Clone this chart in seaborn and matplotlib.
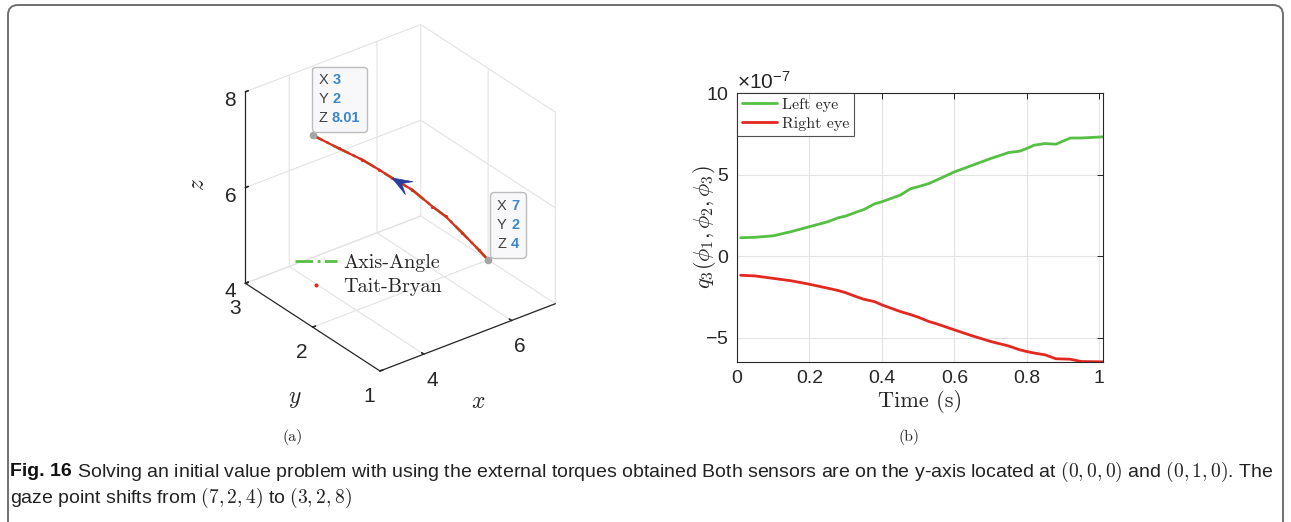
import numpy as np
import pandas as pd
import matplotlib
matplotlib.use("Agg")
import matplotlib.pyplot as plt
import matplotlib.transforms as mtransforms
import matplotlib.ticker as mticker
import seaborn as sns
from matplotlib.patches import FancyBboxPatch, Polygon
from matplotlib.offsetbox import TextArea, HPacker, VPacker, AnnotationBbox
from mpl_toolkits.mplot3d import proj3d

# ---------------- data ----------------
# (a) gaze trajectory, from (7,2,4) to (3,2,8)
path_x = [7.0, 6.79, 6.41, 6.03, 5.73, 5.27, 4.81, 4.51, 4.13, 3.59, 3.0]
path_y = [2.0, 2.0, 2.0, 2.0, 2.0, 2.0, 2.0, 2.0, 2.0, 2.0, 2.0]
path_z = [4.0, 4.28, 4.77, 5.25, 5.56, 6.07, 6.48, 6.76, 7.10, 7.53, 8.01]
arrow_index = 6
x3_ticks = [4, 6]
y3_ticks = [1, 2, 3]
z3_ticks = [4, 6, 8]
x3_lim = (3, 7)
y3_lim = (1, 3)
z3_lim = (4, 8)

# (b) q3 for both eyes (values in units of 1e-7)
time_s = [0.01, 0.05, 0.10, 0.15, 0.20, 0.25, 0.28, 0.30, 0.33, 0.35, 0.38, 0.40,
          0.45, 0.48, 0.50, 0.53, 0.55, 0.60, 0.65, 0.70, 0.75, 0.78, 0.80, 0.82,
          0.85, 0.88, 0.92, 0.95, 1.01]
left_eye = [1.12, 1.15, 1.24, 1.50, 1.80, 2.10, 2.35, 2.45, 2.70, 2.85, 3.20, 3.33,
            3.73, 4.14, 4.25, 4.45, 4.65, 5.16, 5.57, 5.98, 6.35, 6.43, 6.60, 6.80,
            6.90, 6.86, 7.24, 7.24, 7.31]
right_eye = [-1.18, -1.22, -1.37, -1.52, -1.73, -1.97, -2.12, -2.25, -2.50, -2.65, -2.80, -3.00,
             -3.40, -3.60, -3.75, -4.02, -4.15, -4.53, -4.90, -5.24, -5.52, -5.75, -5.86, -5.95,
             -6.06, -6.30, -6.33, -6.47, -6.49]
value_exp = -7
t_ticks = [0, 0.2, 0.4, 0.6, 0.8, 1]
q_ticks = [-5, 0, 5, 10]
q_lim = (-6.5, 10)
t_lim = (0, 1.01)

# ---------------- style ----------------
sns.set_theme(style="white")
plt.rcParams["font.family"] = ["Liberation Sans", "DejaVu Sans"]
plt.rcParams["axes.unicode_minus"] = False
plt.rcParams["mathtext.fontset"] = "custom"
plt.rcParams["mathtext.rm"] = "Liberation Sans"
plt.rcParams["mathtext.it"] = "Liberation Sans:italic"
plt.rcParams["mathtext.bf"] = "Liberation Sans:bold"
plt.rcParams["grid.color"] = "#e3e3e3"
plt.rcParams["grid.linewidth"] = 0.8

W, H = 1291, 522
fig = plt.figure(figsize=(W / 100, H / 100), dpi=100)
fig.patch.set_facecolor("white")

# outer rounded frame (pixel coordinates)
frame = FancyBboxPatch((8, -30), 1275, 547,
                       boxstyle="round,pad=0,rounding_size=10",
                       transform=mtransforms.IdentityTransform(),
                       fill=False, ec="#6f6f6f", lw=1.4)
fig.patches.append(frame)

dark = "#262626"
green = "#55c043"
red = "#e3281f"

# ---------------- (a) 3D panel ----------------
S = 440
ax3 = fig.add_axes([(402 - S / 2) / W, (324.5 - S / 2) / H, S / W, S / H],
                   projection="3d", computed_zorder=False)
ax3.set_proj_type("ortho")
ax3.view_init(elev=30, azim=-127.5)
ax3.set_xlim(*x3_lim)
ax3.set_ylim(*y3_lim)
ax3.set_zlim(*z3_lim)
zoom = 1.0
ax3.set_box_aspect((1, 1, 1), zoom=zoom)
ax3.set_xticks(x3_ticks)
ax3.set_yticks(y3_ticks)
ax3.set_zticks(z3_ticks)
ax3.patch.set_alpha(0)
for axis in (ax3.xaxis, ax3.yaxis, ax3.zaxis):
    axis.set_pane_color((1, 1, 1, 0))
    axis.pane.set_edgecolor("#e3e3e3")
    axis.line.set_color(dark)
    axis.line.set_linewidth(0.9)
    axis._axinfo["grid"]["color"] = "#e3e3e3"
    axis._axinfo["grid"]["linewidth"] = 0.8
    axis._axinfo["tick"]["inward_factor"] = 0.0
    axis._axinfo["tick"]["outward_factor"] = 0.2
ax3.tick_params(labelsize=15, colors=dark, pad=2)
ax3.tick_params(axis="z", pad=0)
lab_kw = dict(fontsize=17, math_fontfamily="cm", color=dark)
ax3.zaxis.set_rotate_label(False)
ax3.set_zlabel("$z$", labelpad=4, rotation=90, **lab_kw)

ax3.plot(path_x, path_y, path_z, color=green, lw=2.0, ls="-.", label="Axis-Angle")
ax3.plot(path_x, path_y, path_z, color=red, lw=1.6, ls="-")
ax3.plot(path_x, path_y, path_z, color=red, lw=0, marker=".", markersize=2.5,
         label="Tait-Bryan")
ax3.plot([path_x[0], path_x[-1]], [path_y[0], path_y[-1]], [path_z[0], path_z[-1]],
         lw=0, marker="o", markersize=4.5, color="#a5a5a5")

leg3 = ax3.legend(loc="upper left", bbox_to_anchor=(277 / W, 1 - 236 / H),
                  bbox_transform=fig.transFigure, frameon=False,
                  prop={"family": "cmr10", "size": 14.5}, handlelength=2.1,
                  handletextpad=0.3, labelspacing=0.3, markerscale=1.5)

# fit the projected cube to the reference layout
fig.canvas.draw()


def to_px(x, y, z):
    xs, ys, _ = proj3d.proj_transform(x, y, z, ax3.get_proj())
    return ax3.transData.transform((xs, ys))


w_now = to_px(x3_lim[1], y3_lim[0], z3_lim[0])[0] - to_px(x3_lim[0], y3_lim[1], z3_lim[0])[0]
zoom *= 310 / w_now
ax3.set_box_aspect((1, 1, 1), zoom=zoom)
fig.canvas.draw()
cur = to_px(x3_lim[0], y3_lim[0], z3_lim[0])
dx, dy = 380 - cur[0], (H - 371) - cur[1]
pos = ax3.get_position()
ax3.set_position([pos.x0 + dx / W, pos.y0 + dy / H, pos.width, pos.height])
fig.canvas.draw()

# x / y axis labels, placed below the middle of their axis edges
px_mid = to_px(np.mean(x3_lim), y3_lim[0], z3_lim[0])
py_mid = to_px(x3_lim[0], np.mean(y3_lim), z3_lim[0])
fig.text(0, 0, "$x$", ha="center", va="center", **lab_kw,
         transform=mtransforms.Affine2D().translate(px_mid[0] + 10, px_mid[1] - 65))
fig.text(0, 0, "$y$", ha="center", va="center", **lab_kw,
         transform=mtransforms.Affine2D().translate(py_mid[0] - 18, py_mid[1] - 72))

# arrow head on the trajectory
tip = to_px(path_x[arrow_index], path_y[arrow_index], path_z[arrow_index])
prev = to_px(path_x[arrow_index - 1], path_y[arrow_index - 1], path_z[arrow_index - 1])
d = (tip - prev) / np.linalg.norm(tip - prev)
nrm = np.array([-d[1], d[0]])
L, Wd, notch = 20, 7.5, 11
verts = [tip, tip - L * d + Wd * nrm, tip - notch * d, tip - L * d - Wd * nrm]
fig.patches.append(Polygon(verts, closed=True, transform=mtransforms.IdentityTransform(),
                           fc="#2a3c9c", ec="#2a3c9c", lw=0.5, zorder=10))


# data tips
def datatip(x, y, z, off):
    p = to_px(x, y, z)
    rows = []
    for name, val in (("X", x), ("Y", y), ("Z", z)):
        rows.append(HPacker(children=[
            TextArea(name, textprops=dict(color="#404040", size=10.5)),
            TextArea(f"{val:g}", textprops=dict(color="#3a87cc", size=10.5, weight="bold"))],
            sep=3, align="baseline"))
    box = VPacker(children=rows, sep=3.5, align="left")
    ab = AnnotationBbox(box, p, xycoords=mtransforms.IdentityTransform(),
                        xybox=off, boxcoords="offset pixels", box_alignment=(0, 0),
                        frameon=True, pad=0.45, annotation_clip=False, zorder=3,
                        bboxprops=dict(boxstyle="round,pad=0.45,rounding_size=0.25",
                                       fc="#f8f8fa", ec="#bcbcbc", lw=1))
    fig.add_artist(ab)


datatip(path_x[-1], path_y[-1], path_z[-1], (6, 10))
datatip(path_x[0], path_y[0], path_z[0], (9, 9))

fig.text(293 / W, 1 - 437 / H, "(a)", family="cmr10", fontsize=11.5, ha="center", va="center")

# ---------------- (b) 2D panel ----------------
ax2 = fig.add_axes([737 / W, (H - 362) / H, 366 / W, 269 / H])
scale = 10.0 ** value_exp
df = pd.DataFrame({
    "t": time_s + time_s,
    "q": [v * scale for v in left_eye] + [v * scale for v in right_eye],
    "eye": ["Left eye"] * len(time_s) + ["Right eye"] * len(time_s),
})
sns.lineplot(data=df, x="t", y="q", hue="eye", palette=[green, red], lw=2,
             sort=False, ax=ax2)
ax2.set_xlim(*t_lim)
ax2.set_ylim(q_lim[0] * scale, q_lim[1] * scale)
ax2.set_xticks(t_ticks)
ax2.set_xticklabels([f"{v:g}" for v in t_ticks])
ax2.set_yticks([v * scale for v in q_ticks])
fmt = mticker.ScalarFormatter(useMathText=True)
fmt.set_powerlimits((value_exp, value_exp))
ax2.yaxis.set_major_formatter(fmt)
ax2.yaxis.get_offset_text().set_fontsize(15)
ax2.grid(True, color="#e3e3e3", lw=0.8)
ax2.tick_params(direction="in", length=4, width=0.7, top=True, right=True,
                labelsize=14, colors=dark, pad=6)
for sp in ax2.spines.values():
    sp.set_color(dark)
    sp.set_linewidth(0.8)
ax2.set_xlabel("Time (s)", family="cmr10", fontsize=16, color=dark, labelpad=2)
ax2.set_ylabel(r"$q_3(\phi_1,\phi_2,\phi_3)$", math_fontfamily="cm", fontsize=16,
               color=dark, labelpad=-9)
leg2 = ax2.legend(loc="upper left", borderaxespad=0, frameon=True, fancybox=False,
                  prop={"family": "cmr10", "size": 11.5}, handlelength=2.2,
                  handletextpad=0.3, labelspacing=0.3, borderpad=0.3)
leg2.get_frame().set_edgecolor(dark)
leg2.get_frame().set_linewidth(0.8)

fig.text(909 / W, 1 - 437 / H, "(b)", family="cmr10", fontsize=11.5, ha="center", va="center")

# ---------------- caption ----------------
cap_size = 14
bold = fig.text(10 / W, 1 - 472 / H, "Fig. 16", fontsize=cap_size, weight="bold",
                color="#111111", va="center")
fig.canvas.draw()
fig.text(0, 0, " Solving an initial value problem with using the external torques obtained "
         "Both sensors are on the y-axis located at $(0,0,0)$ and $(0,1,0)$. The",
         fontsize=cap_size, color="#222222", va="center", math_fontfamily="cm",
         transform=mtransforms.offset_copy(fig.transFigure, fig=fig,
                                           x=bold.get_window_extent().x1 / 100,
                                           y=(H - 472) / 100, units="inches"))
fig.text(10 / W, 1 - 498 / H, "gaze point shifts from $(7,2,4)$ to $(3,2,8)$",
         fontsize=cap_size, color="#222222", va="center", math_fontfamily="cm")

fig.savefig("out.png", dpi=100)
